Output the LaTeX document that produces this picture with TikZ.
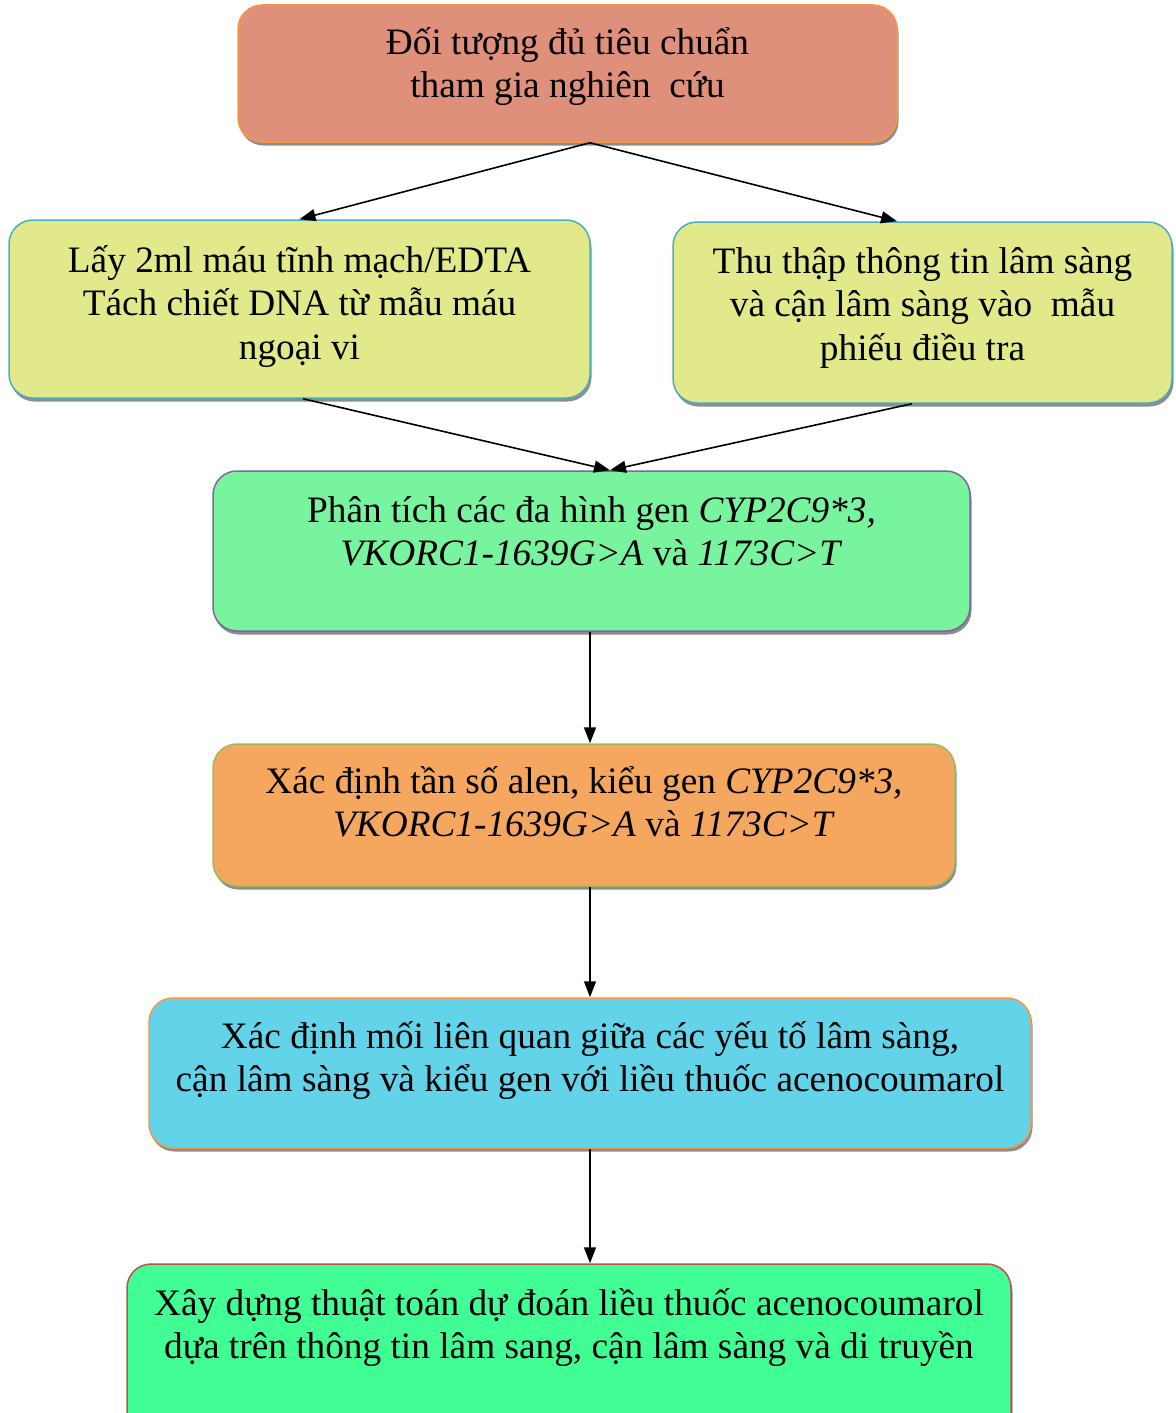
\documentclass[tikz,border=0pt]{standalone}
\usepackage{fontspec}
\setmainfont{Liberation Serif}
\usetikzlibrary{shadows,arrows.meta,positioning,calc}
\definecolor{c1fill}{HTML}{DF907A}
\definecolor{c1line}{HTML}{F79646}
\definecolor{c2fill}{HTML}{E1E98A}
\definecolor{c2line}{HTML}{4BACC6}
\definecolor{c4fill}{HTML}{78F49E}
\definecolor{c4line}{HTML}{8064A2}
\definecolor{c5fill}{HTML}{F5A65F}
\definecolor{c5line}{HTML}{9BBB59}
\definecolor{c6fill}{HTML}{63D3E9}
\definecolor{c7fill}{HTML}{40FE94}
\definecolor{c7line}{HTML}{C0504D}
\tikzset{
  box/.style={rectangle, rounded corners=24pt, line width=1.5pt, inner sep=0pt,
    drop shadow={shadow xshift=1.5pt, shadow yshift=-3.5pt, fill=black!45, opacity=1}},
  txt/.style={anchor=north, align=center, inner sep=0pt,
    font=\fontsize{37.3}{43.5}\selectfont},
  arr/.style={line width=1.6pt, -{Triangle[length=16pt,width=12pt]}}
}
\begin{document}
\begin{tikzpicture}[x=1pt,y=-1pt]
\useasboundingbox (0,0) rectangle (1175,1413);
\begin{scope}
\clip (0,0) rectangle (1175,1413);
% boxes
\node[box, fill=c1fill, draw=c1line, minimum width=659pt, minimum height=137pt] (b1) at (567.5,73.5) {};
\node[box, fill=c2fill, draw=c2line, minimum width=581pt, minimum height=178pt] (b2) at (299.5,309) {};
\node[box, fill=c2fill, draw=c2line, minimum width=499pt, minimum height=181pt] (b3) at (922.5,312.5) {};
\node[box, fill=c4fill, draw=c4line, minimum width=757pt, minimum height=160pt] (b4) at (591.5,551) {};
\node[box, fill=c5fill, draw=c5line, minimum width=742pt, minimum height=142pt] (b5) at (584,815) {};
\node[box, fill=c6fill, draw=c1line, minimum width=882pt, minimum height=150pt] (b6) at (590,1073) {};
\node[box, fill=c7fill, draw=c7line, minimum width=884pt, minimum height=180pt] (b7) at (569,1354) {};
\end{scope}
% texts
\node[txt] (t1) at ([yshift=-23pt]b1.north) {Đối tượng đủ tiêu chuẩn\\tham gia nghiên\ \ cứu};
\node[txt] (t2) at ([yshift=-26pt]b2.north) {Lấy 2ml máu tĩnh mạch/EDTA\\Tách chiết DNA từ mẫu máu\\ngoại vi};
\node[txt] (t3) at ([yshift=-26pt]b3.north) {Thu thập thông tin lâm sàng\\và cận lâm sàng vào\ \ mẫu\\phiếu điều tra};
\node[txt] (t4) at ([yshift=-26pt]b4.north) {Phân tích các đa hình gen \textit{CYP2C9*3,}\\\textit{VKORC1-1639G>A} và \textit{1173C>T}};
\node[txt] (t5) at ([yshift=-23pt]b5.north) {Xác định tần số alen, kiểu gen \textit{CYP2C9*3,}\\\textit{VKORC1-1639G>A} và \textit{1173C>T}};
\node[txt] (t6) at ([yshift=-24pt]b6.north) {Xác định mối liên quan giữa các yếu tố lâm sàng,\\cận lâm sàng và kiểu gen với liều thuốc acenocoumarol};
\node[txt] (t7) at ([yshift=-25pt]b7.north) {Xây dựng thuật toán dự đoán liều thuốc acenocoumarol\\dựa trên thông tin lâm sang, cận lâm sàng và di truyền};
% connector anchor points
\coordinate (s1) at (b1.south -| 590,0);
\coordinate (e3) at (b3.north -| 897,0);
\coordinate (e4) at (b4.north -| 610,0);
\coordinate (s2) at (b2.south -| 303,0);
\coordinate (s3) at (b3.south -| 912,0);
\coordinate (v4) at (b4.south -| 590,0);
\coordinate (v5n) at (b5.north -| 590,0);
\coordinate (v5s) at (b5.south -| 590,0);
\coordinate (v6n) at (b6.north -| 590,0);
\coordinate (v6s) at (b6.south -| 590,0);
\coordinate (v7n) at (b7.north -| 590,0);
% connectors
\draw[arr] (s1) -- (b2.north);
\draw[arr] (s1) -- (e3);
\draw[arr] (s2) -- (e4);
\draw[arr] (s3) -- (e4);
\draw[arr] (v4) -- (v5n);
\draw[arr] (v5s) -- (v6n);
\draw[arr] (v6s) -- (v7n);
\end{tikzpicture}
\end{document}
